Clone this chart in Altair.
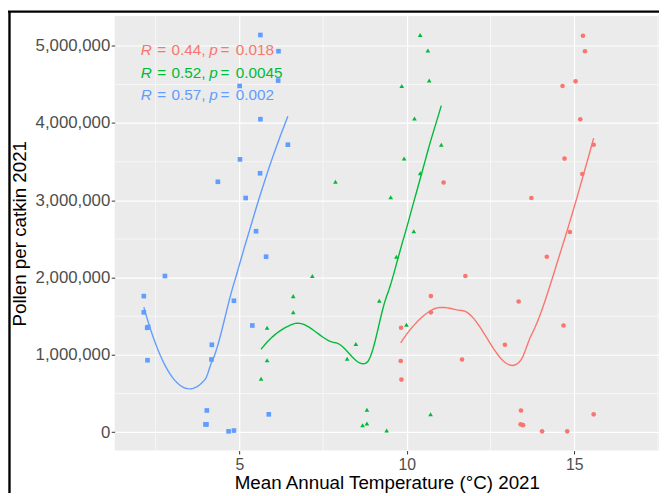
import numpy as np
import pandas as pd
import altair as alt

# ---- data (temperature in °C, pollen per catkin) ----
red_temp = [15.26, 15.32, 15.04, 14.65, 15.18, 15.58, 14.71, 15.24, 11.10, 13.72,
            14.87, 14.18, 11.75, 10.72, 13.34, 10.72, 9.83, 14.68, 12.93, 9.82,
            11.65, 9.84, 13.41, 13.40, 13.47, 14.04, 14.79, 15.58]
red_pollen = [5130000, 4930000, 4540000, 4480000, 4050000, 3720000, 3540000, 3340000,
              3230000, 3030000, 2590000, 2270000, 2020000, 1760000, 1690000, 1550000,
              1350000, 1380000, 1130000, 920000, 940000, 680000, 280000, 100000,
              90000, 10000, 10000, 230000]

green_temp = [10.40, 10.63, 10.67, 9.85, 10.23, 11.03, 9.92, 10.40, 7.87, 9.52,
              10.21, 9.69, 7.18, 6.61, 9.18, 6.61, 5.83, 9.99, 8.48, 5.83,
              8.22, 8.81, 8.68, 8.81, 9.40, 10.71, 5.65]
green_pollen = [5140000, 4940000, 4550000, 4480000, 4060000, 3720000, 3540000, 3350000,
                3240000, 3040000, 2600000, 2270000, 2020000, 1760000, 1700000, 1550000,
                1350000, 1390000, 1140000, 930000, 950000, 290000, 90000, 110000,
                20000, 230000, 690000]

blue_temp = [5.63, 6.17, 6.16, 5.01, 5.63, 6.45, 5.02, 5.62, 4.36, 5.19,
             5.50, 5.80, 2.78, 2.15, 4.84, 2.15, 2.25, 2.28, 5.39, 4.18,
             2.26, 4.17, 4.03, 3.99, 4.02, 4.68, 4.84, 5.88]
blue_pollen = [5140000, 4930000, 4550000, 4480000, 4050000, 3720000, 3530000, 3350000,
               3240000, 3030000, 2600000, 2270000, 2020000, 1760000, 1700000, 1550000,
               1350000, 1360000, 1380000, 1130000, 930000, 940000, 280000, 100000,
               100000, 10000, 20000, 230000]

groups = ["A", "B", "C"]
colors = ["#F8766D", "#00BA38", "#619CFF"]
shapes = ["circle", "triangle-up", "square"]

# correlation annotations
r_vals = ["0.44,", "0.52,", "0.57,"]
p_vals = ["0.018", "0.0045", "0.002"]
label_x = [2.06, 2.06, 2.06]
label_y = [4880000, 4580000, 4300000]

x_ticks = [5, 10, 15]
x_minor = [2.5, 7.5, 12.5, 17.5]
y_ticks = [0, 1000000, 2000000, 3000000, 4000000, 5000000]
y_minor = [500000, 1500000, 2500000, 3500000, 4500000]

x_domain = [1.28, 17.53]
y_domain = [-239000, 5387000]

SPAN = 0.9

# ---- build tables ----
pts = pd.concat([
    pd.DataFrame({"temp": red_temp, "pollen": red_pollen, "grp": "A"}),
    pd.DataFrame({"temp": green_temp, "pollen": green_pollen, "grp": "B"}),
    pd.DataFrame({"temp": blue_temp, "pollen": blue_pollen, "grp": "C"}),
], ignore_index=True)


def local_fit(x, y, v, q):
    """local quadratic (tricube weights, q nearest) -> value and slope at v"""
    d = np.abs(x - v)
    h = np.sort(d)[q - 1]
    w = np.clip(1 - (d / h) ** 3, 0, None) ** 3
    X = np.vstack([np.ones(len(x)), x - v, (x - v) ** 2]).T
    sw = np.sqrt(w)
    beta = np.linalg.lstsq(X * sw[:, None], y * sw, rcond=None)[0]
    return beta[0], beta[1]


def loess_fit(x, y, n_out=80, span=SPAN, cell=0.2):
    """loess smoother (degree 2, kd-tree vertices + cubic Hermite interpolation)"""
    x = np.asarray(x, float)
    y = np.asarray(y, float)
    n = len(x)
    q = int(n * span)
    fc = int(n * span * cell)
    xsrt = np.sort(x)
    lo, hi = xsrt[0], xsrt[-1]
    mu = 0.005 * max(hi - lo, 1e-10)
    leaves = []

    def split(l, u, v0, v1):
        if u - l + 1 <= fc:
            leaves.append((v0, v1))
            return
        m = (l + u + 2) // 2 - 1
        while m > l and xsrt[m - 1] == xsrt[m]:
            m -= 1
        xi = xsrt[m]
        if xi == v0 or xi == v1:
            leaves.append((v0, v1))
            return
        split(l, m, v0, xi)
        split(m + 1, u, xi, v1)

    split(0, n - 1, lo - mu, hi + mu)
    verts = sorted(set([a for a, b in leaves] + [b for a, b in leaves]))
    vfit = {v: local_fit(x, y, v, q) for v in verts}
    grid = np.linspace(lo, hi, n_out)
    out = []
    for g in grid:
        for v0, v1 in leaves:
            if v0 <= g <= v1:
                break
        g0, s0 = vfit[v0]
        g1, s1 = vfit[v1]
        L = v1 - v0
        t = (g - v0) / L
        phi0 = (1 - t) ** 2 * (1 + 2 * t)
        phi1 = t ** 2 * (3 - 2 * t)
        psi0 = t * (1 - t) ** 2
        psi1 = -t ** 2 * (1 - t)
        out.append(phi0 * g0 + phi1 * g1 + (psi0 * s0 + psi1 * s1) * L)
    return grid, np.array(out)


fits = []
for g in groups:
    sub = pts[pts.grp == g]
    gx, gy = loess_fit(sub.temp.values, sub.pollen.values)
    fits.append(pd.DataFrame({"temp": gx, "pollen": gy, "grp": g}))
fit_df = pd.concat(fits, ignore_index=True)

ann = pd.DataFrame({
    "grp": groups,
    "temp": label_x,
    "pollen": label_y,
    "rtxt": r_vals,
    "ptxt": p_vals,
})

FONT = "Liberation Sans"
xs = alt.Scale(domain=x_domain, nice=False, zero=False)
ys = alt.Scale(domain=y_domain, nice=False, zero=False)
cs = alt.Scale(domain=groups, range=colors)
ss = alt.Scale(domain=groups, range=shapes)

x_axis = alt.Axis(values=x_ticks, title="Mean Annual Temperature (°C) 2021",
                  titleFontSize=19, titleY=38.5, titleBaseline="alphabetic",
                  labelFontSize=16, labelPadding=2.5)
y_axis = alt.Axis(values=y_ticks, labelExpr="format(datum.value, ',')",
                  title="Pollen per catkin 2021",
                  titleFontSize=19, titleX=-90, titleY=220, titleAngle=270,
                  titleBaseline="alphabetic", titleAlign="center",
                  labelFontSize=17, labelPadding=1.5)

X = alt.X("temp:Q", scale=xs, axis=x_axis)
Y = alt.Y("pollen:Q", scale=ys, axis=y_axis)
C = alt.Color("grp:N", scale=cs, legend=None)

minor_x = alt.Chart(pd.DataFrame({"temp": x_minor})).mark_rule(
    color="white", strokeWidth=0.6).encode(x=X)
minor_y = alt.Chart(pd.DataFrame({"pollen": y_minor})).mark_rule(
    color="white", strokeWidth=0.6).encode(y=Y)

points = alt.Chart(pts).mark_point(filled=True, size=22, opacity=1).encode(
    x=X, y=Y, color=C, shape=alt.Shape("grp:N", scale=ss, legend=None))

lines = alt.Chart(fit_df).mark_line(strokeWidth=1.4).encode(
    x=X, y=Y, color=C, detail="grp:N", order="temp:Q")

tbase = alt.Chart(ann)
tkw = dict(align="left", baseline="alphabetic", fontSize=15.5, font=FONT)
txt_layers = [
    tbase.mark_text(text="R", fontStyle="italic", dx=0, **tkw).encode(x=X, y=Y, color=C),
    tbase.mark_text(text="=", dx=16.7, **tkw).encode(x=X, y=Y, color=C),
    tbase.mark_text(dx=31, **tkw).encode(x=X, y=Y, color=C, text="rtxt:N"),
    tbase.mark_text(text="p", fontStyle="italic", dx=69.4, **tkw).encode(x=X, y=Y, color=C),
    tbase.mark_text(text="=", dx=80.7, **tkw).encode(x=X, y=Y, color=C),
    tbase.mark_text(dx=96, **tkw).encode(x=X, y=Y, color=C, text="ptxt:N"),
]

frame_df = pd.DataFrame({"k": [0]})
frame_left = alt.Chart(frame_df).mark_rule(color="black", strokeWidth=2.4).encode(
    x=alt.value(-106.5), y=alt.value(-5), y2=alt.value(483))
frame_top = alt.Chart(frame_df).mark_rule(color="black", strokeWidth=2.4).encode(
    y=alt.value(-4.3), x=alt.value(-108), x2=alt.value(551))

chart = alt.layer(
    minor_x, minor_y, points, lines, *txt_layers, frame_left, frame_top
).properties(
    width=551, height=440,
    padding={"left": 108, "top": 5, "right": 0, "bottom": 43},
    autosize="none", background="white",
).configure_view(
    fill="#EBEBEB", stroke=None
).configure_axis(
    grid=True, gridColor="white", gridWidth=1.2, domain=False,
    tickColor="#333333", tickSize=3.5, tickWidth=1,
    labelColor="#4D4D4D", labelFont=FONT, titleFont=FONT,
    titleColor="black", titleFontWeight="normal",
)

chart.save("out.html", embed_options={"renderer": "svg", "actions": False})
